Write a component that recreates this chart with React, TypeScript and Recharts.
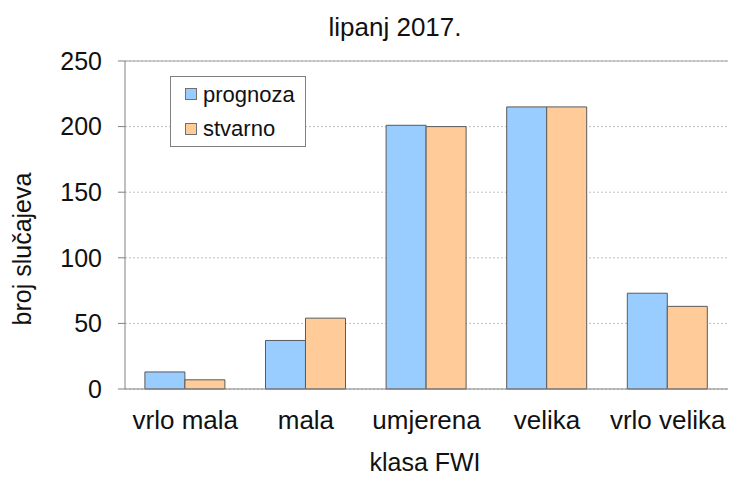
import React from "react";
import { BarChart, Bar, XAxis, YAxis, CartesianGrid, ReferenceLine } from "recharts";

const categories = ["vrlo mala", "mala", "umjerena", "velika", "vrlo velika"];
const prognoza = [13, 37, 201, 215, 73];
const stvarno = [7, 54, 200, 215, 63];
const yTicks = [0, 50, 100, 150, 200, 250];
const boundaryTicks = [0, 1, 2, 3, 4, 5];

const data = categories.map((c, i) => ({ name: c, prognoza: prognoza[i], stvarno: stvarno[i] }));

const FONT = "'Liberation Sans', Arial, sans-serif";
const BLUE = "#99CCFF";
const ORANGE = "#FFCC99";
const EDGE = "#5a5a5a";

export default function App() {
  return (
    <div style={{ position: "absolute", left: 0, top: 0, width: 729, height: 477, background: "#fff", fontFamily: FONT, overflow: "hidden" }}>
      <BarChart
        width={729}
        height={477}
        data={data}
        margin={{ top: 61, right: 1, bottom: 48, left: 0 }}
        barCategoryGap="16.5%"
        barGap={0}
      >
        <CartesianGrid vertical={false} stroke="#c0c0c0" strokeDasharray="2 2" />
        <XAxis
          dataKey="name"
          xAxisId="cat"
          height={40}
          tickLine={false}
          tickSize={0}
          tickMargin={22}
          axisLine={{ stroke: "#808080" }}
          tick={{ fill: "#111", fontSize: 26, fontFamily: FONT }}
          interval={0}
        />
        <XAxis
          xAxisId="b"
          type="number"
          domain={[0, 5]}
          ticks={boundaryTicks}
          tick={false}
          tickSize={7}
          tickLine={{ stroke: "#808080" }}
          axisLine={false}
          height={0}
          allowDataOverflow
        />
        <YAxis
          width={125}
          domain={[0, 250]}
          ticks={yTicks}
          interval={0}
          tickSize={7}
          tickMargin={16}
          axisLine={{ stroke: "#808080" }}
          tickLine={{ stroke: "#808080" }}
          tick={{ fill: "#111", fontSize: 25, fontFamily: FONT }}
        />
        <ReferenceLine y={250} xAxisId="cat" stroke="#a0a0a0" />
        <ReferenceLine x={5} xAxisId="b" stroke="#a0a0a0" />
        <Bar dataKey="prognoza" xAxisId="cat" fill={BLUE} stroke={EDGE} strokeWidth={1} isAnimationActive={false} />
        <Bar dataKey="stvarno" xAxisId="cat" fill={ORANGE} stroke={EDGE} strokeWidth={1} isAnimationActive={false} />
      </BarChart>

      <div style={{ position: "absolute", left: 195, width: 400, top: 12, textAlign: "center", fontSize: 26, lineHeight: "normal", color: "#111", whiteSpace: "nowrap" }}>
        lipanj 2017.
      </div>
      <div style={{ position: "absolute", left: 225, width: 400, top: 448, lineHeight: "normal", textAlign: "center", fontSize: 25, color: "#111", whiteSpace: "nowrap" }}>
        klasa FWI
      </div>
      <div
        style={{
          position: "absolute",
          left: 22,
          top: 249,
          transform: "translate(-50%, -50%) rotate(-90deg)",
          whiteSpace: "nowrap",
          fontSize: 25,
          color: "#111",
        }}
      >
        broj slučajeva
      </div>

      <div
        style={{
          position: "absolute",
          left: 170,
          top: 76,
          width: 136,
          height: 71,
          border: "1px solid #808080",
          boxSizing: "border-box",
          background: "#fff",
        }}
      >
        {[
          { label: "prognoza", color: BLUE, sw: 11, tx: 5 },
          { label: "stvarno", color: ORANGE, sw: 46, tx: 39 },
        ].map((it) => (
          <React.Fragment key={it.label}>
            <div
              style={{
                position: "absolute",
                left: 14,
                top: it.sw,
                width: 12,
                height: 12,
                background: it.color,
                border: "1px solid #707070",
                boxSizing: "border-box",
              }}
            />
            <div style={{ position: "absolute", left: 32, top: it.tx, fontSize: 22, color: "#111", whiteSpace: "nowrap" }}>
              {it.label}
            </div>
          </React.Fragment>
        ))}
      </div>
    </div>
  );
}
